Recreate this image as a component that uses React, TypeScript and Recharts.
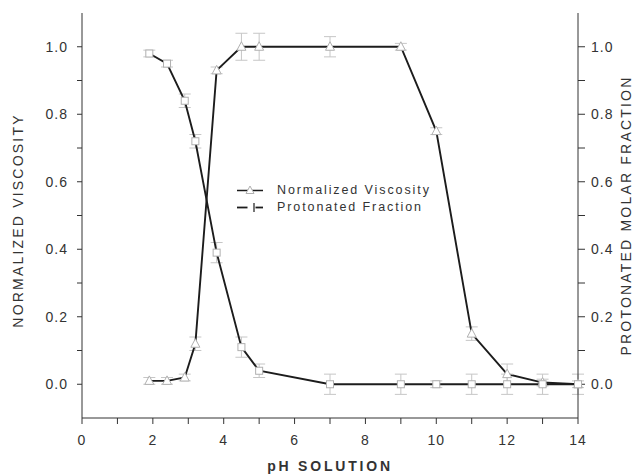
import React from 'react';
import { LineChart, Line, XAxis, YAxis, ErrorBar, Label } from 'recharts';

const phValues = [1.9, 2.4, 2.9, 3.2, 3.8, 4.5, 5.0, 7, 9, 10, 11, 12, 13, 14];
const viscosity = [0.01, 0.01, 0.02, 0.12, 0.93, 1.0, 1.0, 1.0, 1.0, 0.75, 0.15, 0.03, 0.005, 0.0];
const viscosityErr = [0.01, 0.01, 0.01, 0.02, 0.01, 0.04, 0.04, 0.03, 0.01, 0.01, 0.02, 0.03, 0.01, 0.01];
const protonated = [0.98, 0.95, 0.84, 0.72, 0.39, 0.11, 0.04, 0.0, 0.0, 0.0, 0.0, 0.0, 0.0, 0.0];
const protonatedErr = [0.01, 0.01, 0.02, 0.02, 0.03, 0.03, 0.02, 0.03, 0.03, 0.01, 0.03, 0.03, 0.03, 0.03];
const xTicks = [0, 1, 2, 3, 4, 5, 6, 7, 8, 9, 10, 11, 12, 13, 14];
const yTicks = [0, 0.1, 0.2, 0.3, 0.4, 0.5, 0.6, 0.7, 0.8, 0.9, 1.0];

const seriesNames = ['Normalized Viscosity', 'Protonated Fraction'];
const axisTitles = ['NORMALIZED VISCOSITY', 'PROTONATED MOLAR FRACTION', 'pH SOLUTION'];

const data = phValues.map((ph, i) => ({
  ph,
  viscosity: viscosity[i],
  viscosityErr: viscosityErr[i],
  protonated: protonated[i],
  protonatedErr: protonatedErr[i],
}));

const TEXT = '#333';
const LINE = '#1c1c1c';
const MARK = '#b0b0b0';
const ERR = '#c6c6c6';
const FONT = '"Liberation Sans", Arial, Helvetica, sans-serif';

const Triangle = (props: any) => {
  const { cx, cy } = props;
  if (cx == null || cy == null) return null;
  return (
    <path
      d={`M${cx},${cy - 5} L${cx + 4.5},${cy + 3.5} L${cx - 4.5},${cy + 3.5} Z`}
      fill="#fff"
      stroke={MARK}
      strokeWidth={1}
    />
  );
};

const Square = (props: any) => {
  const { cx, cy } = props;
  if (cx == null || cy == null) return null;
  return <rect x={cx - 3.5} y={cy - 3.5} width={7} height={7} fill="#fff" stroke={MARK} strokeWidth={1} />;
};

const xFmt = (v: number) => (Math.round(v) % 2 === 0 ? String(v) : '');
const yFmt = (v: number) => (Math.round(v * 10) % 2 === 0 ? v.toFixed(1) : '');

const LeftTitle = (props: any) => {
  const vb = props.viewBox || { x: 0, y: 5, width: 74, height: 405 };
  const x = vb.x + 10;
  const y = vb.y + vb.height / 2 + 5;
  return (
    <text
      x={x}
      y={y}
      transform={`rotate(-90 ${x} ${y})`}
      textAnchor="middle"
      dominantBaseline="central"
      fontFamily={FONT}
      fontSize={14}
      letterSpacing={2.2}
      fill={TEXT}
    >
      {axisTitles[0]}
    </text>
  );
};

const RightTitle = (props: any) => {
  const vb = props.viewBox || { x: 570, y: 5, width: 62, height: 405 };
  const x = vb.x + 48;
  const y = vb.y + vb.height / 2;
  return (
    <text
      x={x}
      y={y}
      transform={`rotate(-90 ${x} ${y})`}
      textAnchor="middle"
      dominantBaseline="central"
      fontFamily={FONT}
      fontSize={14}
      letterSpacing={2.2}
      fill={TEXT}
    >
      {axisTitles[1]}
    </text>
  );
};

const BottomTitle = (props: any) => {
  const vb = props.viewBox || { x: 74, y: 410, width: 496, height: 56 };
  const x = vb.x + vb.width / 2;
  const y = vb.y + 53;
  return (
    <text
      x={x}
      y={y}
      textAnchor="middle"
      fontFamily={FONT}
      fontSize={14}
      fontWeight="bold"
      letterSpacing={2.8}
      fill={TEXT}
    >
      {axisTitles[2]}
    </text>
  );
};

const LegendBox = () => (
  <div
    style={{
      position: 'absolute',
      left: 229,
      top: 174,
      fontFamily: FONT,
      fontSize: 12.5,
      letterSpacing: 1.9,
      color: TEXT,
      lineHeight: '17px',
      whiteSpace: 'nowrap',
    }}
  >
    <div style={{ display: 'flex', alignItems: 'center', height: 17 }}>
      <svg width={26} height={17} style={{ marginRight: 14 }}>
        <line x1={0} y1={8.5} x2={26} y2={8.5} stroke={LINE} strokeWidth={1.5} />
        <path d="M13,4 L17,11.5 L9,11.5 Z" fill="#fff" stroke={MARK} strokeWidth={1} />
      </svg>
      <span>{seriesNames[0]}</span>
    </div>
    <div style={{ display: 'flex', alignItems: 'center', height: 17 }}>
      <svg width={26} height={17} style={{ marginRight: 14 }}>
        <line x1={0} y1={8.5} x2={26} y2={8.5} stroke={LINE} strokeWidth={1.8} />
        <rect x={11} y={5} width={7} height={7} fill="#fff" stroke="#fff" />
        <line x1={17} y1={4} x2={17} y2={13} stroke={LINE} strokeWidth={1.2} />
      </svg>
      <span>{seriesNames[1]}</span>
    </div>
  </div>
);

export default function App() {
  return (
    <div style={{ position: 'relative', width: 632, height: 466, background: '#fff' }}>
      <LineChart
        width={632}
        height={466}
        data={data}
        margin={{ top: 5, right: 0, bottom: 0, left: 0 }}
      >
        <XAxis
          xAxisId="bottom"
          dataKey="ph"
          type="number"
          domain={[0, 14]}
          ticks={xTicks}
          tickFormatter={xFmt}
          interval={0}
          height={56}
          stroke={TEXT}
          tickSize={6}
          tickMargin={11}
          tick={{ fill: TEXT, fontSize: 14, fontFamily: FONT, letterSpacing: 1 }}
        >
          <Label content={BottomTitle} />
        </XAxis>
        <XAxis
          xAxisId="top"
          orientation="top"
          type="number"
          domain={[0, 14]}
          ticks={xTicks}
          tickFormatter={() => ''}
          interval={0}
          height={0}
          mirror
          stroke={TEXT}
          tickSize={5}
        />
        <YAxis
          yAxisId="left"
          type="number"
          domain={[-0.1, 1.1]}
          ticks={yTicks}
          tickFormatter={yFmt}
          interval={0}
          width={74}
          stroke={TEXT}
          tickSize={5}
          tickMargin={9}
          tick={{ fill: TEXT, fontSize: 14, fontFamily: FONT, letterSpacing: 1 }}
        >
          <Label content={LeftTitle} />
        </YAxis>
        <YAxis
          yAxisId="right"
          orientation="right"
          type="number"
          domain={[-0.1, 1.1]}
          ticks={yTicks}
          tickFormatter={yFmt}
          interval={0}
          width={62}
          stroke={TEXT}
          tickSize={7}
          tickMargin={6}
          tick={{ fill: TEXT, fontSize: 14, fontFamily: FONT, letterSpacing: 1 }}
        >
          <Label content={RightTitle} />
        </YAxis>
        <Line
          xAxisId="bottom"
          yAxisId="left"
          dataKey="viscosity"
          name={seriesNames[0]}
          stroke={LINE}
          strokeWidth={1.9}
          dot={<Triangle />}
          activeDot={false}
          isAnimationActive={false}
        >
          <ErrorBar dataKey="viscosityErr" direction="y" width={6} stroke={ERR} strokeWidth={1} />
        </Line>
        <Line
          xAxisId="bottom"
          yAxisId="right"
          dataKey="protonated"
          name={seriesNames[1]}
          stroke={LINE}
          strokeWidth={1.9}
          dot={<Square />}
          activeDot={false}
          isAnimationActive={false}
        >
          <ErrorBar dataKey="protonatedErr" direction="y" width={6} stroke={ERR} strokeWidth={1} />
        </Line>
      </LineChart>
      <LegendBox />
    </div>
  );
}
